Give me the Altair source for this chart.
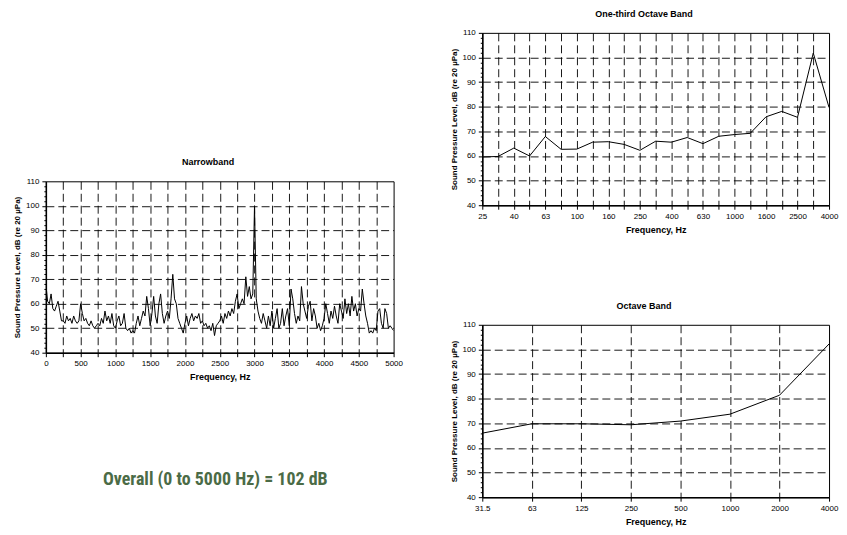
import json
import altair as alt
import pandas as pd

FONT = "Liberation Sans, Arial, Helvetica, sans-serif"
Y_TITLE = "Sound Pressure Level, dB (re 20 \u00b5Pa)"
X_TITLE = "Frequency, Hz"

nb_title = "Narrowband"
third_title = "One-third Octave Band"
oct_title = "Octave Band"
overall_text = "Overall (0 to 5000 Hz) = 102 dB"

y_ticks = list(range(40, 111, 2))
nb_x_ticks = list(range(0, 5001, 250))

# Narrowband spectrum, 25 Hz resolution
nb_freq = list(range(0, 5001, 25))
nb_db = [
    68, 61, 60, 64, 58, 57, 59, 61, 57, 53, 53, 52, 55, 53, 54, 52, 55, 53, 52, 53,
    60, 56, 53, 54, 52, 51, 53, 51, 50, 51, 52, 51, 54, 52, 57, 53, 55, 52, 56, 51,
    50, 53, 55, 51, 52, 56, 50, 49, 50, 48, 49, 48, 52, 55, 51, 54, 57, 55, 63, 58,
    51, 56, 63, 55, 52, 60, 64, 56, 52, 55, 57, 54, 62, 72, 62, 60, 54, 52, 50, 48,
    52, 55, 51, 54, 56, 53, 55, 54, 56, 52, 53, 51, 52, 50, 51, 49, 52, 47, 51, 52,
    53, 55, 52, 56, 54, 57, 55, 58, 56, 61, 64, 58, 60, 62, 60, 71, 63, 67, 62, 64,
    100, 62, 57, 54, 52, 56, 53, 50, 55, 51, 57, 50, 54, 58, 50, 52, 58, 51, 55, 58,
    51, 66, 62, 56, 52, 55, 53, 67, 60, 57, 54, 59, 61, 53, 58, 55, 50, 52, 49, 51,
    54, 60, 56, 52, 57, 54, 59, 55, 52, 60, 57, 54, 62, 56, 60, 55, 63, 57, 60, 55,
    58, 57, 66, 60, 55, 52, 48, 49, 48, 50, 49, 57, 58, 52, 50, 58, 56, 50, 51, 50, 49,
]

third_labels = ["25", "31.5", "40", "50", "63", "80", "100", "125", "160", "200",
                "250", "315", "400", "500", "630", "800", "1000", "1250", "1600",
                "2000", "2500", "3150", "4000"]
third_db = [59.6, 59.8, 63.2, 60.0, 67.9, 62.7, 62.8, 65.6, 65.8, 64.7, 62.3, 66.0,
            65.6, 67.5, 65.0, 68.0, 68.7, 69.2, 75.9, 78.1, 75.7, 101.8, 79.7]

oct_labels = ["31.5", "63", "125", "250", "500", "1000", "2000", "4000"]
oct_db = [66.0, 69.8, 69.8, 69.4, 70.9, 73.7, 81.4, 102.2]

GRID_DASH = [8, 4]


def y_axis():
    return alt.Axis(
        title=Y_TITLE, values=y_ticks,
        labelExpr="datum.value % 10 === 0 ? datum.label : ''",
        labelOverlap=False,
        tickSize={"condition": {"test": "datum.value % 10 === 0", "value": 4}, "value": 2},
        grid=True,
        gridOpacity={"condition": {"test": "datum.value % 10 === 0 && datum.value > 40 && datum.value < 110",
                                   "value": 0.9}, "value": 0},
        gridDash=GRID_DASH, gridColor="#000000",
        labelPadding=3, titlePadding=4, titleFontSize=8,
    )


def x_axis(values, label_expr, last):
    return alt.Axis(
        title=X_TITLE, values=values, labelExpr=label_expr, format="d",
        labelFlush=False, labelOverlap=False, tickSize=4, labelPadding=3,
        titlePadding=5, titleFontSize=9, grid=True,
        gridOpacity={"condition": {"test": f"datum.value > 0 && datum.value < {last}", "value": 0.9},
                     "value": 0},
        gridDash=GRID_DASH, gridColor="#000000",
    )


def title(text):
    return alt.TitleParams(text=text, fontSize=9, font=FONT, fontWeight="bold",
                           anchor="middle", frame="bounds", offset=10, color="#000000")


y_enc = alt.Y("db:Q", scale=alt.Scale(domain=[40, 110], nice=False, zero=False), axis=y_axis())

# Narrowband
nb_df = pd.DataFrame({"freq": nb_freq, "db": nb_db})
nb_line = alt.Chart(nb_df).mark_line(color="#000000", strokeWidth=1, clip=True).encode(
    x=alt.X("freq:Q", scale=alt.Scale(domain=[0, 5000], nice=False, zero=False),
            axis=x_axis(nb_x_ticks, "datum.value % 500 === 0 ? datum.label : ''", 5000)),
    y=y_enc,
)
overall = alt.Chart(pd.DataFrame({"t": [overall_text]})).mark_text(
    font="Liberation Sans Narrow, Arial Narrow, Roboto Condensed, DejaVu Sans Condensed, sans-serif",
    fontSize=18, fontWeight="bold", color="#4b6b46", align="center", baseline="middle",
).encode(text="t:N", x=alt.value(170), y=alt.value(300))
narrow = alt.layer(nb_line, overall).properties(width=349, height=172, title=title(nb_title))

spacer = alt.Chart(pd.DataFrame({"v": [0]})).mark_point(opacity=0).encode(
    x=alt.value(0), y=alt.value(0)
).properties(width=1, height=1, view=alt.ViewBackground(stroke="transparent"))

left = alt.vconcat(spacer, narrow, spacing=121)

# One-third octave
third_df = pd.DataFrame({"idx": list(range(len(third_labels))), "db": third_db})
third_expr = f"datum.value % 2 === 0 ? {json.dumps(third_labels)}[datum.value] : ''"
third = alt.Chart(third_df).mark_line(color="#000000", strokeWidth=1).encode(
    x=alt.X("idx:Q", scale=alt.Scale(domain=[0, len(third_labels) - 1], nice=False, zero=False),
            axis=x_axis(list(range(len(third_labels))), third_expr, len(third_labels) - 1)),
    y=y_enc,
).properties(width=348, height=173, title=title(third_title))

# Octave
oct_df = pd.DataFrame({"idx": list(range(len(oct_labels))), "db": oct_db})
oct_expr = f"{json.dumps(oct_labels)}[datum.value]"
octave = alt.Chart(oct_df).mark_line(color="#000000", strokeWidth=1).encode(
    x=alt.X("idx:Q", scale=alt.Scale(domain=[0, len(oct_labels) - 1], nice=False, zero=False),
            axis=x_axis(list(range(len(oct_labels))), oct_expr, len(oct_labels) - 1)),
    y=y_enc,
).properties(width=348, height=173, title=title(oct_title))

right = alt.vconcat(third, octave, spacing=66)

chart = alt.hconcat(left, right, spacing=46).properties(
    padding={"left": 5, "top": 0, "right": 0, "bottom": 0},
    background="#ffffff",
).configure_view(stroke="#000000", strokeWidth=1).configure_axis(
    labelFont=FONT, labelFontSize=8, labelColor="#000000",
    titleFont=FONT, titleFontWeight="bold", titleColor="#000000",
    domainColor="#000000", tickColor="#000000", domainWidth=1.5,
)

chart.save("out.html", embed_options={"renderer": "svg", "actions": False})
